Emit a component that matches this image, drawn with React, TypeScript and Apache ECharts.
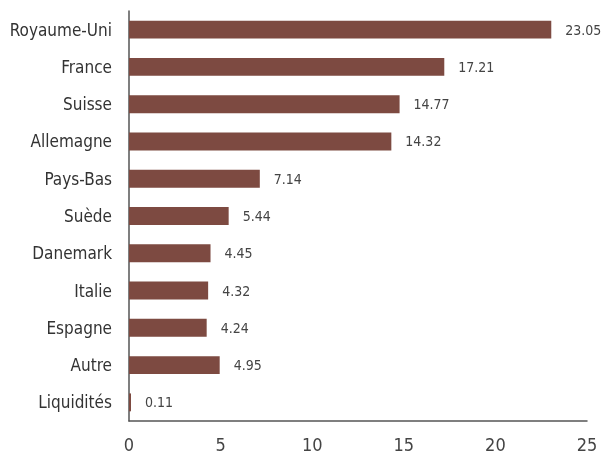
import React, { useEffect, useRef } from "react";
import * as echarts from "echarts";

const categories = ["Royaume-Uni", "France", "Suisse", "Allemagne", "Pays-Bas", "Suède", "Danemark", "Italie", "Espagne", "Autre", "Liquidités"];
const values = [23.05, 17.21, 14.77, 14.32, 7.14, 5.44, 4.45, 4.32, 4.24, 4.95, 0.11];
const xTicks = [0, 5, 10, 15, 20, 25];

const FONT = "'Liberation Sans Narrow', 'DejaVu Sans Condensed', sans-serif";

export default function App() {
  const ref = useRef<HTMLDivElement>(null);
  useEffect(() => {
    const chart = echarts.init(ref.current!, undefined, { renderer: "svg" });
    chart.setOption({
      animation: false,
      grid: { left: 129, right: 14, top: 11, bottom: 35, containLabel: false },
      xAxis: {
        type: "value",
        min: xTicks[0],
        max: xTicks[xTicks.length - 1],
        interval: 5,
        axisLine: { show: true, lineStyle: { color: "#555", width: 1.5 } },
        axisTick: { show: false },
        splitLine: { show: false },
        axisLabel: { color: "#444", fontSize: 18, fontFamily: FONT, margin: 14 },
      },
      yAxis: {
        type: "category",
        data: categories,
        inverse: true,
        axisLine: { show: true, lineStyle: { color: "#555", width: 1.5 } },
        axisTick: { show: false },
        axisLabel: { color: "#333", fontSize: 17, fontFamily: FONT, margin: 17 },
      },
      series: [
        {
          type: "bar",
          data: values,
          barWidth: "48%",
          itemStyle: { color: "#7D4A41" },
          label: {
            show: true,
            position: "right",
            distance: 14,
            color: "#444",
            fontSize: 14,
            fontFamily: FONT,
            formatter: (p: any) => String(p.value),
          },
        },
      ],
    });
    return () => chart.dispose();
  }, []);
  return <div ref={ref} style={{ position: "fixed", left: 0, top: 0, width: 601, height: 456 }} />;
}
